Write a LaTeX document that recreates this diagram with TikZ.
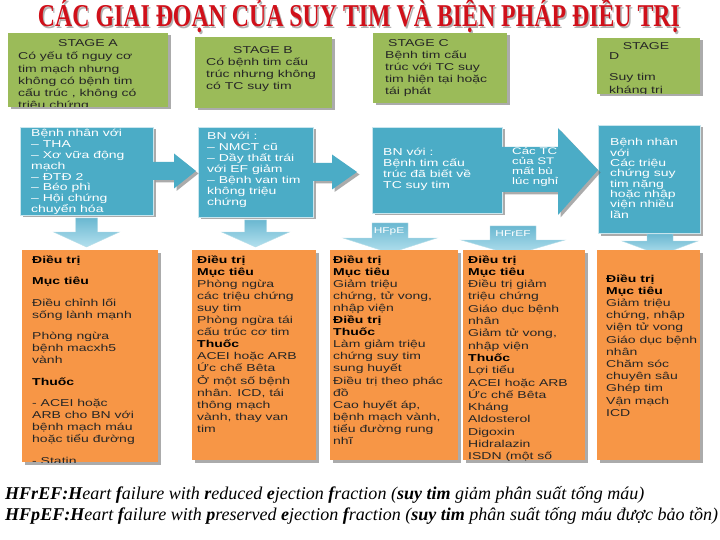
\documentclass[tikz,border=0pt]{standalone}
\usepackage{graphicx}
\usepackage{fontspec}
\setmainfont{Liberation Sans}
\newfontfamily\bx[FakeStretch=1.4]{Liberation Sans}
\newfontfamily\ttl[FakeStretch=0.75]{Liberation Serif}
\newfontfamily\ftr{Liberation Serif}
\usetikzlibrary{calc,shadows}
\definecolor{cgreen}{HTML}{9BBB59}
\definecolor{cblue}{HTML}{4BACC6}
\definecolor{corange}{HTML}{F79646}
\definecolor{carrT}{HTML}{6BB8D1}
\definecolor{carrB}{HTML}{B3E0EE}
\definecolor{ctitle}{HTML}{D0101A}
\definecolor{ctxt}{HTML}{262626}
\newcommand\blk[2]{\vtop{\hsize=300pt\parindent=0pt\parskip=0pt\lineskiplimit=-50pt\lineskip=0pt\baselineskip=#1\relax\leavevmode #2\par}}
\newcommand\bl[1]{{\bfseries\color{black}#1}}
\begin{document}
\begin{tikzpicture}[x=1pt,y=-1pt,
  box/.style={anchor=north west, inner sep=0pt, outer sep=0pt},
  shad/.style={drop shadow={shadow xshift=2.5pt, shadow yshift=-2.5pt, fill=black!60, opacity=0.55}},
  gbox/.style={box, fill=cgreen, shad},
  bbox/.style={box, fill=cblue, draw=white!70!cblue, line width=0.6pt, shad},
  obox/.style={box, fill=corange, shad},
  rarr/.style={fill=cblue, shad},
  darr/.style={top color=carrT, bottom color=carrB, draw=white!60!cblue, line width=0.4pt},
  txt/.style={anchor=base west, inner sep=0pt, font=\bx\fontsize{10}{12}\selectfont},
  gtxt/.style={txt, text=black!85},
  wtxt/.style={txt, text=white},
  otxt/.style={txt, text=ctxt}]
\useasboundingbox (0,0) rectangle (720,540);
\fill[white] (0,0) rectangle (720,540);

% title
\node[anchor=base, inner sep=0pt, text=black!30] (titleshadow) at (360.5,28.5)
  {\resizebox{642pt}{!}{\ttl\bfseries\fontsize{30}{32}\selectfont CÁC GIAI ĐOẠN CỦA SUY TIM VÀ BIỆN PHÁP ĐIỀU TRỊ}};
\node[anchor=base, inner sep=0pt, text=ctitle] (title) at (359,27)
  {\resizebox{642pt}{!}{\ttl\bfseries\fontsize{30}{32}\selectfont CÁC GIAI ĐOẠN CỦA SUY TIM VÀ BIỆN PHÁP ĐIỀU TRỊ}};

% stage boxes
\node[gbox, minimum width=160pt, minimum height=74pt] (sa) at (8,33) {};
\node[gbox, minimum width=137pt, minimum height=71pt] (sb) at (195,37) {};
\node[gbox, minimum width=134pt, minimum height=70pt] (sc) at (373,33) {};
\node[gbox, minimum width=103pt, minimum height=56pt] (sd) at (597,38) {};

\node[gtxt, anchor=base] (saH) at (88,46.5) {STAGE A};
\begin{scope}
\clip (sa.north west) rectangle (sa.south east);
\node[gtxt] (saT) at (18,60) {\blk{12.2pt}{Có yếu tố nguy cơ\par tim mạch nhưng\par không có bệnh tim\par cấu trúc , không có\par triệu chứng}};
\end{scope}
\node[gtxt, anchor=base] (sbH) at (263,53.5) {STAGE B};
\node[gtxt] (sbT) at (206,65.5) {\blk{12pt}{Có bệnh tim cấu\par trúc nhưng không\par có TC suy tim}};
\node[gtxt] (scH) at (388,46.5) {STAGE C};
\node[gtxt] (scT) at (385,59) {\blk{12pt}{Bệnh tim cấu\par trúc với TC suy\par tim hiện tại hoặc\par tái phát}};
\node[gtxt, anchor=base] (sdH) at (646,50) {STAGE};
\begin{scope}
\clip (sd.north west) rectangle (sd.south east);
\node[gtxt] (sdT) at (609,60) {\blk{11pt}{D\par\vskip10pt Suy tim\par\vskip2pt kháng trị}};
\end{scope}

% blue boxes
\node[bbox, minimum width=133pt, minimum height=88pt] (b1) at (20,127) {};
\node[bbox, minimum width=115pt, minimum height=90pt] (b2) at (198,127) {};
\node[bbox, minimum width=130pt, minimum height=86pt] (b3) at (372,127) {};
\node[bbox, minimum width=102pt, minimum height=108pt] (b4) at (598,125) {};

\node[wtxt] (b1T) at (31,137) {\blk{10.8pt}{Bệnh nhân với\par – THA\par – Xơ vữa động\par mạch\par – ĐTĐ 2\par – Béo phì\par – Hội chứng\par chuyển hóa}};
\node[wtxt] (b2T) at (207,140) {\blk{11pt}{BN với :\par – NMCT cũ\par – Dầy thất trái\par với EF giảm\par – Bệnh van tim\par không triệu\par chứng}};
\node[wtxt] (b3T) at (383,156) {\blk{11pt}{BN với :\par Bệnh tim cấu\par trúc đã biết về\par TC suy tim}};
\node[wtxt] (b4T) at (610,146) {\blk{10.3pt}{Bệnh nhân\par với\par Các triệu\par chứng suy\par tim nặng\par hoặc nhập\par viện nhiều\par lần}};

% right arrows
\begin{scope}[shift={(b1.east)}]
\fill[rarr] (0,-9) -- (21,-9) -- (21,-17.5) -- (43,0) -- (21,17.5) -- (21,9) -- (0,9) -- cycle;
\end{scope}
\begin{scope}[shift={(b2.east)}]
\fill[rarr] (0,-9) -- (19,-9) -- (19,-17.5) -- (44,0) -- (19,17.5) -- (19,9) -- (0,9) -- cycle;
\end{scope}
\begin{scope}[shift={(b3.east)}]
\fill[rarr] (0,-23) -- (56,-23) -- (56,-42) -- (96,0) -- (56,45) -- (56,22) -- (0,22) -- cycle;
\end{scope}
\node[wtxt, font=\bx\fontsize{9.5}{11}\selectfont] (a3T) at (512,155) {\blk{9.8pt}{Các TC\par của ST\par mất bù\par lúc nghỉ}};

% down arrows
\begin{scope}[shift={(b1.south)}]
\path[darr] (-11,3) -- (11,3) -- (11,17) -- (33,17) -- (0,32) -- (-33,17) -- (-11,17) -- cycle;
\end{scope}
\begin{scope}[shift={(b2.south)}]
\path[darr] (-11,3) -- (11,3) -- (11,15) -- (34,15) -- (0,30) -- (-34,15) -- (-11,15) -- cycle;
\end{scope}
\begin{scope}[shift={($(b3.south)+(-47,0)$)}]
\path[darr] (-18,10) -- (18,10) -- (18,25) -- (47,25) -- (0,40) -- (-47,25) -- (-18,25) -- cycle;
\end{scope}
\begin{scope}[shift={($(b3.south)+(76,0)$)}]
\path[darr] (-23,13) -- (23,13) -- (23,27) -- (52,27) -- (0,42) -- (-52,27) -- (-23,27) -- cycle;
\end{scope}
\begin{scope}[shift={($(b4.south)+(11,0)$)}]
\path[darr] (-13,1) -- (13,1) -- (13,8) -- (38,8) -- (0,22) -- (-38,8) -- (-13,8) -- cycle;
\end{scope}
\node[text=white, inner sep=0pt, font=\bx\fontsize{8.5}{10}\selectfont] (hfpe) at (389,231) {HFpE};
\node[text=white, inner sep=0pt, font=\bx\fontsize{8.5}{10}\selectfont] (hfref) at (513,233.5) {HFrEF};

% orange boxes
\node[obox, minimum width=136pt, minimum height=212pt] (o1) at (22,250) {};
\node[obox, minimum width=124pt, minimum height=210pt] (o2) at (192,250) {};
\node[obox, minimum width=128pt, minimum height=210pt] (o3) at (330,250) {};
\node[obox, minimum width=122pt, minimum height=210pt] (o4) at (463,250) {};
\node[obox, minimum width=103pt, minimum height=210pt] (o5) at (597,250) {};

\begin{scope}
\clip (o1.north west) rectangle (o1.south east);
\node[otxt] (o1T) at (32,263) {\blk{12pt}{\bl{Điều trị}\par\vskip9.5pt
 \bl{Mục tiêu}\par\vskip9.5pt
 Điều chỉnh lối\par sống lành mạnh\par\vskip9.5pt
 Phòng ngừa\par bệnh macxh5\par vành\par\vskip9.5pt
 \bl{Thuốc}\par\vskip9.5pt
 - ACEI hoặc\par ARB cho BN với\par bệnh mạch máu\par hoặc tiểu đường\par\vskip9.5pt
 - Statin}};
\end{scope}
\node[otxt] (o2T) at (197,263) {\blk{12.1pt}{\bl{Điều trị}\par \bl{Mục tiêu}\par Phòng ngừa\par các triệu chứng\par suy tim\par Phòng ngừa tái\par cấu trúc cơ tim\par \bl{Thuốc}\par ACEI hoặc ARB\par Ức chế Bêta\par Ở một số bệnh\par nhân. ICD, tái\par thông mạch\par vành, thay van\par tim}};
\node[otxt] (o3T) at (333,263) {\blk{12.1pt}{\bl{Điều trị}\par \bl{Mục tiêu}\par Giảm triệu\par chứng, tử vong,\par nhập viện\par \bl{Điều trị}\par \bl{Thuốc}\par Làm giảm triệu\par chứng suy tim\par sung huyết\par Điều trị theo phác\par đồ\par Cao huyết áp,\par bệnh mạch vành,\par tiểu đường rung\par nhĩ}};
\begin{scope}
\clip (o4.north west) rectangle (o4.south east);
\node[otxt] (o4T) at (468,263) {\blk{12.3pt}{\bl{Điều trị}\par \bl{Mục tiêu}\par Điều trị giảm\par triệu chứng\par Giáo dục bệnh\par nhân\par Giảm tử vong,\par nhập viện\par \bl{Thuốc}\par Lợi tiểu\par ACEI hoặc ARB\par Ức chế Bêta\par Kháng\par Aldosterol\par Digoxin\par Hidralazin\par ISDN (một số}};
\end{scope}
\begin{scope}
\clip (o5.north west) rectangle (o5.south east);
\node[otxt] (o5T) at (606,282) {\blk{12.2pt}{\bl{Điều trị}\par \bl{Mục tiêu}\par Giảm triệu\par chứng, nhập\par viện tử vong\par Giáo dục bệnh\par nhân\par Chăm sóc\par chuyên sâu\par Ghép tim\par Vận mạch\par ICD}};
\end{scope}

% footer
\node[anchor=base west, inner sep=0pt] (foot) at (5,499) {\resizebox{713pt}{!}{\ftr\itshape\fontsize{17}{20}\selectfont\begin{tabular}[t]{@{}l@{}}
\textbf{HFrEF:H}eart \textbf{f}ailure with \textbf{r}educed \textbf{e}jection \textbf{f}raction (\textbf{suy tim} giảm phân suất tống máu)\\
\textbf{HFpEF:H}eart \textbf{f}ailure with \textbf{p}reserved \textbf{e}jection \textbf{f}raction (\textbf{suy tim} phân suất tống máu được bảo tồn)
\end{tabular}}};
\end{tikzpicture}
\end{document}
